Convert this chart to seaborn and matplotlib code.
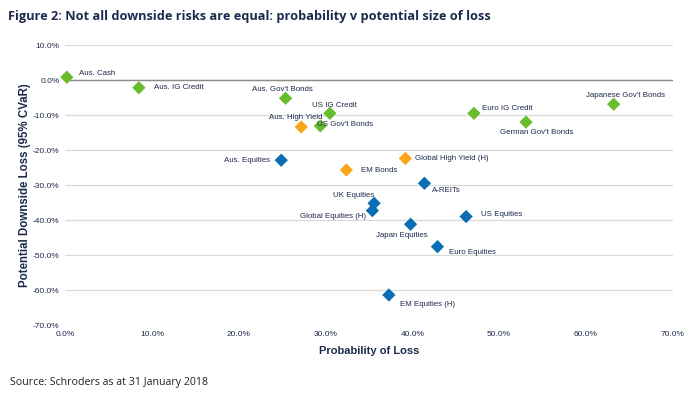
import pandas as pd
import matplotlib.pyplot as plt
import seaborn as sns
from matplotlib.ticker import FuncFormatter

# Asset classes
assets = ["Aus. Cash", "Aus. IG Credit", "Aus. Gov't Bonds", "US IG Credit",
          "Aus. High Yield", "US Gov't Bonds", "Aus. Equities", "EM Bonds",
          "Global High Yield (H)", "Euro IG Credit", "German Gov't Bonds",
          "Japanese Gov't Bonds", "A-REITs", "UK Equities", "Global Equities (H)",
          "US Equities", "Japan Equities", "Euro Equities", "EM Equities (H)"]
prob_loss = [0.2, 8.5, 25.4, 30.5, 27.2, 29.4, 24.9, 32.4, 39.2, 47.1, 53.1,
             63.2, 41.4, 35.6, 35.4, 46.2, 39.8, 42.9, 37.3]
cvar_loss = [0.8, -2.2, -5.2, -9.5, -13.4, -13.1, -22.9, -25.7, -22.4, -9.5,
             -12.0, -6.9, -29.5, -35.2, -37.3, -39.0, -41.2, -47.6, -61.4]
group = ["defensive", "defensive", "defensive", "defensive", "credit",
         "defensive", "growth", "credit", "credit", "defensive", "defensive",
         "defensive", "growth", "growth", "growth", "growth", "growth",
         "growth", "growth"]

df = pd.DataFrame({"asset": assets, "prob": prob_loss, "loss": cvar_loss, "group": group})

colours = {"defensive": "#68BD2F", "credit": "#F9A51A", "growth": "#0B6DB3"}
navy = "#1D2A4D"

# label offsets in pixels (dx, dy, horizontal alignment)
label_pos = {
    "Aus. Cash": (12, 4, "left"),
    "Aus. IG Credit": (15, 0, "left"),
    "Aus. Gov't Bonds": (-3, 9, "center"),
    "US IG Credit": (5, 8, "center"),
    "Aus. High Yield": (-5, 9, "center"),
    "US Gov't Bonds": (-3, 1, "left"),
    "Aus. Equities": (-11, 0, "right"),
    "EM Bonds": (15, 0, "left"),
    "Global High Yield (H)": (10, 0, "left"),
    "Euro IG Credit": (8, 5, "left"),
    "German Gov't Bonds": (11, -10, "center"),
    "Japanese Gov't Bonds": (12, 9, "center"),
    "A-REITs": (8, -7, "left"),
    "UK Equities": (0, 8, "right"),
    "Global Equities (H)": (-6, -6, "right"),
    "US Equities": (15, 2, "left"),
    "Japan Equities": (-9, -11, "center"),
    "Euro Equities": (12, -6, "left"),
    "EM Equities (H)": (11, -10, "left"),
}

sns.set_style("white")
plt.rcParams["font.family"] = ["Liberation Sans", "DejaVu Sans"]

fig = plt.figure(figsize=(7.0, 3.95), dpi=100)
ax = fig.add_axes([0.093, 0.177, 0.868, 0.709])

sns.scatterplot(data=df, x="prob", y="loss", hue="group", palette=colours,
                marker="D", s=46, linewidth=0, legend=False, ax=ax, zorder=3)
for coll in ax.collections:
    coll.set_clip_on(False)

for name, x, y in zip(df["asset"], df["prob"], df["loss"]):
    dx, dy, ha = label_pos[name]
    ax.annotate(name, (x, y), xytext=(dx * 0.72, dy * 0.72), textcoords="offset points",
                ha=ha, va="center", fontsize=5.7, color=navy, zorder=4)

ax.set_xlim(0, 70)
ax.set_ylim(-70, 10)
ax.set_xticks(range(0, 71, 10))
ax.set_yticks(range(-70, 11, 10))
pct = FuncFormatter(lambda v, p: f"{v:.1f}%")
ax.xaxis.set_major_formatter(pct)
ax.yaxis.set_major_formatter(pct)
ax.tick_params(axis="both", labelsize=6, colors=navy, length=0, pad=4)
ax.grid(axis="y", color="#D9D9D9", linewidth=0.9)
ax.axhline(0, color="#8C8C8C", linewidth=1.0, zorder=2)
for side in ["top", "right", "left", "bottom"]:
    ax.spines[side].set_visible(False)

ax.set_xlabel("Probability of Loss", fontsize=8, fontweight="bold", color=navy, labelpad=6)
ax.set_ylabel("Potential Downside Loss (95% CVaR)", fontsize=8.3, fontweight="bold",
              color=navy, labelpad=1)

fig.text(0.011, 0.957, "Figure 2: Not all downside risks are equal: probability v potential size of loss",
         fontsize=9.2, fontweight="bold", color=navy, family=["Open Sans", "DejaVu Sans"],
         va="center")
fig.text(0.014, 0.031, "Source: Schroders as at 31 January 2018", fontsize=7.7,
         color="#222222", family=["Open Sans", "DejaVu Sans"], va="center")

fig.savefig("out.png", dpi=100)
